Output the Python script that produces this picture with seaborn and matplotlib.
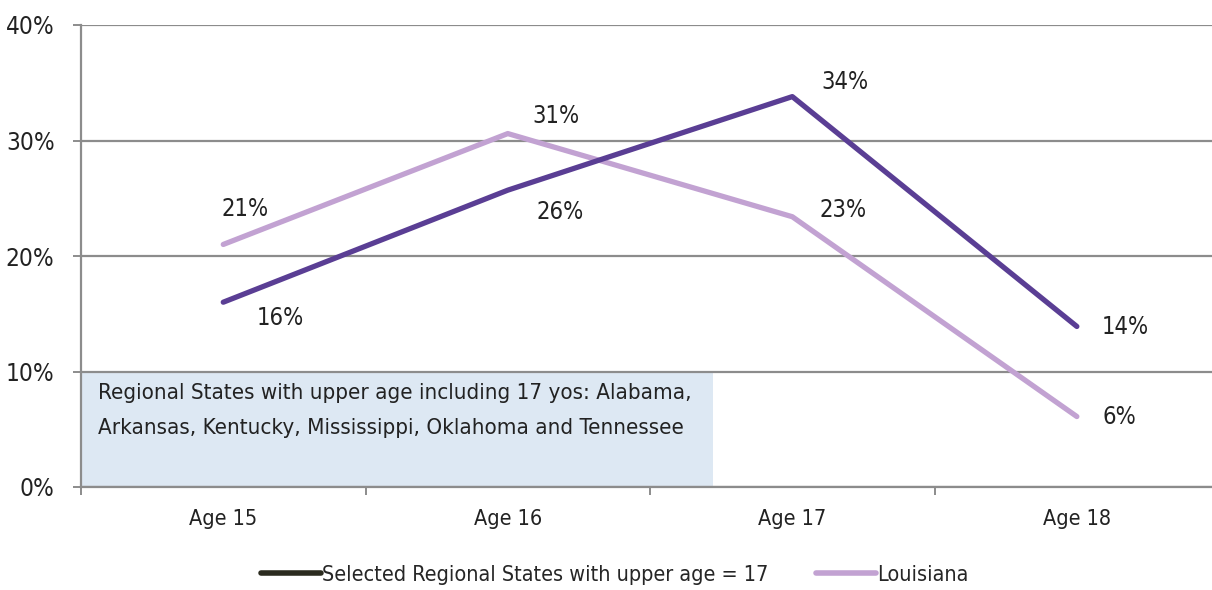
import matplotlib
matplotlib.use("Agg")
import matplotlib.pyplot as plt
from matplotlib.lines import Line2D
from matplotlib.patches import Rectangle
import seaborn as sns
import pandas as pd

ages = ["Age 15", "Age 16", "Age 17", "Age 18"]
regional = [16.0, 25.7, 33.8, 13.9]
louisiana = [21.0, 30.6, 23.4, 6.1]
regional_labels = ["16%", "26%", "34%", "14%"]
louisiana_labels = ["21%", "31%", "23%", "6%"]
y_ticks = [0, 10, 20, 30, 40]

name_reg = "Selected Regional States with upper age = 17"
name_la = "Louisiana"
c_reg = "#5a3e94"
c_la = "#c2a2d2"

df = pd.DataFrame({
    "age": ages * 2,
    "x": list(range(len(ages))) * 2,
    "value": regional + louisiana,
    "series": [name_reg] * 4 + [name_la] * 4,
})

sns.set_style("white")
plt.rcParams["font.family"] = ["DejaVu Sans"]
plt.rcParams["font.stretch"] = "condensed"

fig = plt.figure(figsize=(12.12, 5.9), dpi=100)
ax = fig.add_axes([81 / 1212, 1 - 487 / 590, (1212 - 81) / 1212, (487 - 25) / 590])

# note box behind lines
ax.add_patch(Rectangle((-0.5, 0), 2.22, 10, facecolor="#dde8f3", edgecolor="none", zorder=0.5))
ax.text(-0.44, 9.0, "Regional States with upper age including 17 yos: Alabama,\n"
        "Arkansas, Kentucky, Mississippi, Oklahoma and Tennessee",
        fontsize=16, va="top", ha="left", color="#222222", linespacing=1.95, zorder=3)

sns.lineplot(data=df, x="x", y="value", hue="series",
             palette={name_reg: c_reg, name_la: c_la},
             hue_order=[name_la, name_reg],
             linewidth=3.8, ax=ax, legend=False,
             solid_capstyle="round", zorder=2)

# data labels
reg_off = [(57, -16), (52, -22), (53, 15), (48, -1)]
la_off = [(22, 35), (48, 18), (51, 7), (43, 0)]
for i in range(len(ages)):
    ax.annotate(regional_labels[i], (i, regional[i]), xytext=reg_off[i],
                textcoords="offset pixels", ha="center", va="center",
                fontsize=17, color="#222222")
    ax.annotate(louisiana_labels[i], (i, louisiana[i]), xytext=la_off[i],
                textcoords="offset pixels", ha="center", va="center",
                fontsize=17, color="#222222")

ax.set_xlim(-0.5, 3.475)
ax.set_ylim(0, 40)
ax.set_yticks(y_ticks)
ax.set_yticklabels([f"{v}%" for v in y_ticks], fontsize=17.5, color="#222222")
ax.set_xticks(range(len(ages)))
ax.set_xticklabels(ages, fontsize=15.5, color="#222222")
ax.tick_params(axis="x", which="major", bottom=True, length=0, pad=16)
ax.set_xticks([-0.5, 0.5, 1.5, 2.5], minor=True)
ax.tick_params(axis="x", which="minor", bottom=True, length=6, color="#8c8c8c", width=1.4, direction="out")
ax.tick_params(axis="y", left=True, length=6, color="#8c8c8c", width=1.4, direction="out", pad=13)
ax.set_xlabel("")
ax.set_ylabel("")
ax.yaxis.grid(True, color="#8c8c8c", linewidth=1.6)
ax.set_axisbelow(True)
for s in ["top", "right"]:
    ax.spines[s].set_visible(False)
for s in ["left", "bottom"]:
    ax.spines[s].set_color("#8c8c8c")
    ax.spines[s].set_linewidth(1.6)

handles = [Line2D([], [], color="#2b2b1f", linewidth=4, solid_capstyle="round"),
           Line2D([], [], color=c_la, linewidth=4, solid_capstyle="round")]
fig.legend(handles, [name_reg, name_la], loc="center", bbox_to_anchor=(615 / 1212, 1 - 575 / 590),
           ncol=2, frameon=False, fontsize=15.5, handlelength=2.8, handletextpad=0.05,
           columnspacing=2.2)

fig.savefig("out.png", dpi=100)
